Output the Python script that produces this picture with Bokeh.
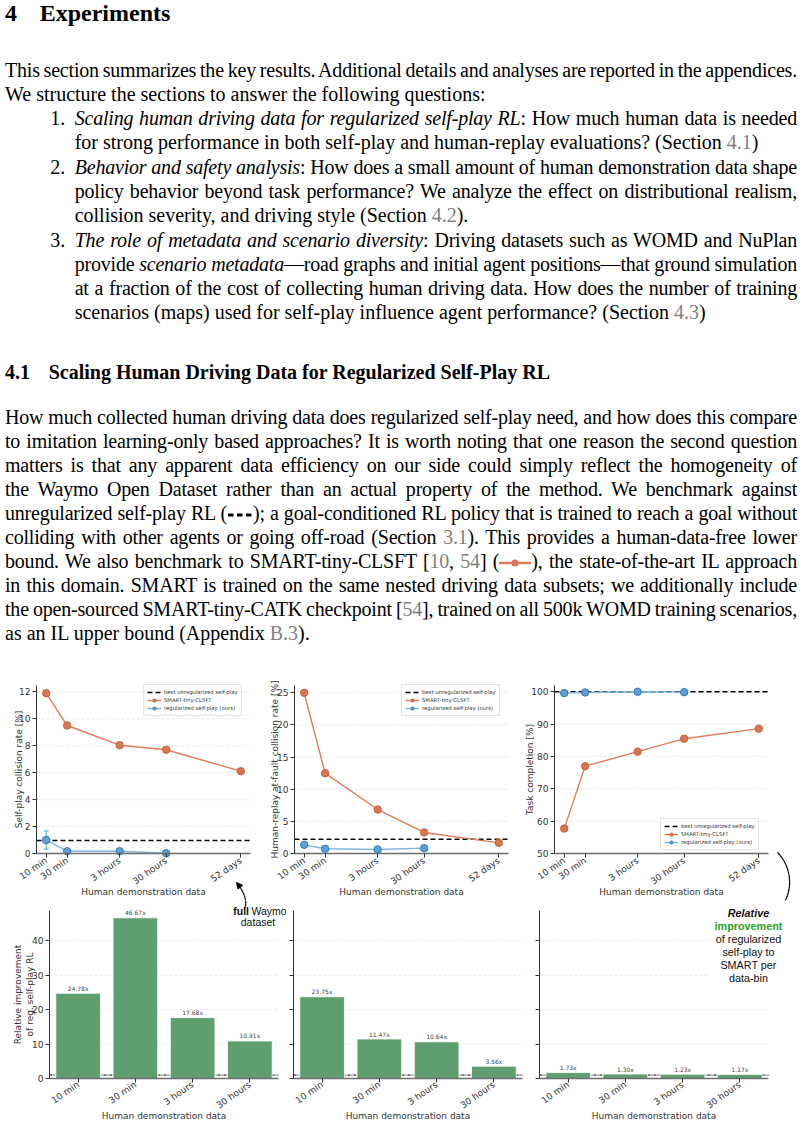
import math
from bokeh.plotting import figure
from bokeh.models import (Div, Legend, LegendItem, Label, Arrow, NormalHead, Range1d,
                          FixedTicker, BoxAnnotation)
from bokeh.layouts import column, row
from bokeh.core.properties import value
from bokeh.embed import file_html
from bokeh.resources import INLINE

# ---------------- data ----------------
data_bins = ["10 min", "30 min", "3 hours", "30 hours", "52 days"]
data_bin_x = [0.0, 0.45, 1.58, 2.58, 4.185]   # log10 position relative to 10 min, as plotted

smart_sp_collision = [11.9, 9.5, 8.04, 7.7, 6.11]
ours_sp_collision = [1.0, 0.17, 0.17, 0.02]
ours_sp_collision_err = [0.68, 0.03, 0.03, 0.02]
unreg_sp_collision = 0.96

smart_hr_collision = [25.0, 12.5, 6.84, 3.27, 1.66]
ours_hr_collision = [1.35, 0.73, 0.62, 0.83]
unreg_hr_collision = 2.22

smart_task = [57.7, 77.0, 81.5, 85.5, 88.6]
ours_task = [99.6, 99.8, 100.0, 99.9]
unreg_task = 100.0

bar_bins = ["10 min", "30 min", "3 hours", "30 hours"]
rel_impr_sp = [24.78, 46.67, 17.68, 10.91]
rel_impr_hr = [23.75, 11.47, 10.64, 3.56]
rel_impr_task = [1.73, 1.30, 1.23, 1.17]
rel_baseline = 1.0

# ---------------- styles ----------------
SANS = "DejaVu Sans"
ANNO = "Liberation Sans"
SERIF = "Liberation Serif"
ORANGE_LINE = "#e27c55"
ORANGE_FILL = "#dc7650"
ORANGE_EDGE = "#b9593a"
BLUE_LINE = "#7ab6e0"
BLUE_FILL = "#5aa2d8"
BLUE_EDGE = "#2a6aa6"
GREEN = "#5f9e6e"
AX = "#333333"
GRID = "#e4e4e4"
GRAYREF = "#7f7f7f"

X_RANGE = (-0.2085, 4.3935)
BAR_X = (-0.5, 3.5)
BAR_Y = (0, 48.8)


class Geo:
    """maps page pixels to data coordinates of one figure"""
    def __init__(self, fl, fr, ft, fb, xr, yr):
        self.fl, self.fr, self.ft, self.fb, self.xr, self.yr = fl, fr, ft, fb, xr, yr

    def x(self, px):
        return self.xr[0] + (px - self.fl) / (self.fr - self.fl) * (self.xr[1] - self.xr[0])

    def y(self, py):
        return self.yr[0] + (self.fb - py) / (self.fb - self.ft) * (self.yr[1] - self.yr[0])


def make_fig(canvas, box, xr, yr):
    cl, ct, cr, cb = canvas
    dl, dt, dr, db = box
    sx = (dr - dl) / (xr[1] - xr[0])
    sy = (db - dt) / (yr[1] - yr[0])
    p = figure(width=cr - cl, height=cb - ct,
               x_range=Range1d(xr[0] - (dl - cl) / sx, xr[1] + (cr - dr) / sx),
               y_range=Range1d(yr[0] - (cb - db) / sy, yr[1] + (dt - ct) / sy),
               output_backend="svg", toolbar_location=None,
               min_border_left=0, min_border_right=0, min_border_top=0, min_border_bottom=0)
    p.xaxis.fixed_location = yr[0]
    p.yaxis.fixed_location = xr[0]
    p.xaxis.bounds = xr
    p.yaxis.bounds = yr
    p.outline_line_color = None
    p.xgrid.visible = False
    p.ygrid.visible = False
    for ax in (p.xaxis[0], p.yaxis[0]):
        ax.major_label_text_font = SANS
        ax.major_label_text_font_size = "9px"
        ax.major_label_text_color = AX
        ax.axis_label_text_font = SANS
        ax.axis_label_text_font_size = "9px"
        ax.axis_label_text_font_style = "normal"
        ax.axis_label_text_color = AX
        ax.major_tick_out = 4
        ax.major_tick_in = 0
        ax.minor_tick_line_color = None
        ax.major_tick_line_color = AX
        ax.major_label_standoff = 2
    p.xaxis.axis_line_color = "#6e6e6e"
    p.xaxis.axis_line_width = 1.5
    p.yaxis.axis_line_color = AX
    p.yaxis.axis_line_width = 1.0
    p.xaxis.major_label_orientation = math.radians(35)
    p.xaxis.axis_label = "Human demonstration data"
    p.xaxis.axis_label_standoff = -6
    return p, Geo(dl, dr, dt, db, xr, yr)


def bez(p0, p1, p2, p3, n=18):
    pts = []
    for i in range(n + 1):
        t = i / n
        u = 1 - t
        pts.append((u ** 3 * p0[0] + 3 * u * u * t * p1[0] + 3 * u * t * t * p2[0] + t ** 3 * p3[0],
                    u ** 3 * p0[1] + 3 * u * u * t * p1[1] + 3 * u * t * t * p2[1] + t ** 3 * p3[1]))
    return pts


def draw_curve(p, geo, pts, head):
    for i in range(len(pts) - 1):
        a, b = pts[i], pts[i + 1]
        last = i == len(pts) - 2
        hd = NormalHead(size=6, fill_color="black", line_color="black", line_width=1) if (last and head) else None
        p.add_layout(Arrow(x_start=geo.x(a[0]), y_start=geo.y(a[1]), x_end=geo.x(b[0]), y_end=geo.y(b[1]),
                           end=hd, line_color="black", line_width=1.2))


def line_chart(canvas, box, yr, yticks, ylabel, ylabel_standoff, smart, ours, unreg, legend_xy, ours_err=None):
    p, geo = make_fig(canvas, box, X_RANGE, yr)
    p.yaxis.axis_label = ylabel
    p.yaxis.axis_label_standoff = ylabel_standoff
    p.xaxis.ticker = FixedTicker(ticks=data_bin_x)
    p.xaxis.major_label_overrides = dict(zip(data_bin_x, data_bins))
    p.yaxis.ticker = FixedTicker(ticks=yticks)

    x0, x1 = X_RANGE
    gl = yticks[1:]
    p.segment([x0] * len(gl), gl, [x1] * len(gl), gl, line_color=GRID, line_dash="3 2", line_width=0.8)
    r_unreg = p.line([x0, x1], [unreg, unreg], line_color="black", line_dash="5 3", line_width=1.5)
    r_sl = p.line(data_bin_x, smart, line_color=ORANGE_LINE, line_width=1.4)
    r_ss = p.scatter(data_bin_x, smart, size=7.5, fill_color=ORANGE_FILL, line_color=ORANGE_EDGE, line_width=0.8)
    ox = data_bin_x[:len(ours)]
    r_ol = p.line(ox, ours, line_color=BLUE_LINE, line_width=1.4)
    if ours_err is not None:
        lo = [v - e for v, e in zip(ours, ours_err)]
        hi = [v + e for v, e in zip(ours, ours_err)]
        p.segment(ox, lo, ox, hi, line_color=BLUE_LINE, line_width=1.3)
        p.scatter(ox, lo, marker="dash", size=5, line_color=BLUE_LINE, line_width=1.3)
        p.scatter(ox, hi, marker="dash", size=5, line_color=BLUE_LINE, line_width=1.3)
    r_os = p.scatter(ox, ours, size=7.5, fill_color=BLUE_FILL, line_color=BLUE_EDGE, line_width=0.8)

    legend = Legend(items=[
        LegendItem(label="best unregularized self-play", renderers=[r_unreg]),
        LegendItem(label="SMART-tiny-CLSFT", renderers=[r_sl, r_ss]),
        LegendItem(label="regularized self-play (ours)", renderers=[r_ol, r_os]),
    ], location=legend_xy)
    legend.label_text_font = SANS
    legend.label_text_font_size = "5.3px"
    legend.label_text_color = AX
    legend.label_height = 7
    legend.glyph_height = 8
    legend.glyph_width = 14
    legend.spacing = 0
    legend.padding = 3
    legend.margin = 0
    legend.label_standoff = 3
    legend.border_line_color = "#cccccc"
    legend.border_line_width = 0.8
    legend.background_fill_alpha = 0.85
    p.add_layout(legend)
    return p, geo


def bar_chart(canvas, box, vals, ylabel=None, show_ylabels=True):
    p, geo = make_fig(canvas, box, BAR_X, BAR_Y)
    p.xaxis.major_label_standoff = 1
    if ylabel is not None:
        p.yaxis.axis_label = ylabel
        p.yaxis.axis_label_standoff = -6
    idx = list(range(len(bar_bins)))
    p.xaxis.ticker = FixedTicker(ticks=idx)
    p.xaxis.major_label_overrides = dict(zip(idx, bar_bins))
    yt = [0, 10, 20, 30, 40]
    p.yaxis.ticker = FixedTicker(ticks=yt)
    if not show_ylabels:
        p.yaxis.major_label_overrides = {t: "" for t in yt}
    x0, x1 = BAR_X
    gl = yt[1:]
    p.segment([x0] * len(gl), gl, [x1] * len(gl), gl, line_color=GRID, line_dash="3 2", line_width=0.8)
    p.line([x0, x1], [rel_baseline, rel_baseline], line_color="black", line_dash="3 1 1 1", line_width=1)
    p.vbar(x=idx, top=vals, width=0.78, fill_color=GREEN, line_color="white", line_width=0.8)
    p.text(x=idx, y=vals, text=[f"{v:.2f}x" for v in vals], text_align="center", text_baseline="bottom",
           y_offset=-1.5, text_font=value(SANS), text_font_size="6px", text_color="#444444")
    return p, geo


# ---------------- top row (page px: canvas box, data box) ----------------
f1, g1 = line_chart((8, 676, 262, 898), (44, 683, 258, 851), (0, 12.47), [0, 2, 4, 6, 8, 10, 12],
                    "Self-play collision rate [%]", -8,
                    smart_sp_collision, ours_sp_collision, unreg_sp_collision, (143, 184), ours_sp_collision_err)
f2, g2 = line_chart((262, 676, 522, 898), (302, 683, 516, 851), (0, 26.14), [0, 5, 10, 15, 20, 25],
                    "Human-replay at-fault collision rate [%]", -6,
                    smart_hr_collision, ours_hr_collision, unreg_hr_collision, (147, 184))
f3, g3 = line_chart((522, 676, 800, 898), (562, 683, 776, 851), (50, 101.95), [50, 60, 70, 80, 90, 100],
                    "Task completion [%]", -7,
                    smart_task, ours_task, unreg_task, (146, 50))

# ---------------- bottom row ----------------
f4, g4 = bar_chart((8, 898, 294, 1120), (57, 908, 286, 1076), rel_impr_sp,
                   "Relative improvement\nof reg. self-play RL")
f5, g5 = bar_chart((294, 898, 538, 1120), (301, 908, 530, 1076), rel_impr_hr, None, show_ylabels=False)
f6, g6 = bar_chart((538, 898, 800, 1120), (547, 908, 776, 1076), rel_impr_task, None, show_ylabels=False)

# "full Waymo dataset" arrow and text
waymo_arrow = bez((251.5, 907), (256.5, 899), (250, 887), (244, 880))
draw_curve(f1, g1, waymo_arrow, True)
draw_curve(f4, g4, waymo_arrow, False)
f4.add_layout(Label(x=g4.x(256.5), y=g4.y(908), text="full", text_font=ANNO, text_font_style="bold",
                    text_font_size="10.5px", text_color="#111111", text_align="right", text_baseline="middle"))
f4.add_layout(Label(x=g4.x(259), y=g4.y(908), text="Waymo", text_font=ANNO,
                    text_font_size="10.5px", text_color="#111111", text_align="left", text_baseline="middle"))
f4.add_layout(Label(x=g4.x(265.5), y=g4.y(919.5), text="dataset", text_font=ANNO,
                    text_font_size="10.5px", text_color="#111111", text_align="center", text_baseline="middle"))

# curved arrow to the relative-improvement note
rel_arrow = bez((785, 850), (801, 866), (801, 893), (786, 907))
draw_curve(f3, g3, rel_arrow, False)
draw_curve(f6, g6, rel_arrow, True)
f6.add_layout(BoxAnnotation(left=g6.x(716), right=g6.x(800), top=g6.y(898), bottom=g6.y(984),
                            fill_color="white", fill_alpha=1.0, line_color=None))
note = [("Relative", "bold italic", "#111111"), ("improvement", "bold", "#2ea12e"),
        ("of regularized", "normal", "#111111"), ("self-play to", "normal", "#111111"),
        ("SMART per", "normal", "#111111"), ("data-bin", "normal", "#111111")]
for i, (t, st, c) in enumerate(note):
    f6.add_layout(Label(x=g6.x(756), y=g6.y(910.7 + 12.9 * i), text=t, text_font=ANNO, text_font_style=st,
                        text_font_size="10.8px", text_color=c, text_align="center", text_baseline="middle"))

# ---------------- text ----------------
FS = 20


def tline(baseline, left, html, width=None, justify=False, fs=FS, bold=False):
    lh = round(fs * 1.2)
    top = baseline - 8 - ((lh - 1.107 * fs) / 2 + 0.891 * fs)
    st = f"position:absolute;left:{left}px;top:{top:.2f}px;line-height:{lh}px;font-size:{fs}px;"
    if width:
        st += f"width:{width}px;"
    if justify:
        st += "text-align:justify;text-align-last:justify;word-spacing:-1px;letter-spacing:-0.2px;"
    else:
        st += "white-space:nowrap;"
    if bold:
        st += "font-weight:bold;"
    return f'<div style="{st}">{html}</div>'


def ref(s):
    return f'<span style="color:{GRAYREF}">{s}</span>'


dash_svg = ('<svg width="26" height="10" style="vertical-align:0px"><line x1="1" y1="5" x2="25" y2="5" '
            'stroke="black" stroke-width="2.8" stroke-dasharray="5.5 3.5"/></svg>')
smart_svg = (f'<svg width="32" height="10" style="vertical-align:0px"><line x1="0" y1="5" x2="32" y2="5" '
             f'stroke="{ORANGE_LINE}" stroke-width="2.4"/><circle cx="16" cy="5" r="3.6" fill="{ORANGE_FILL}"/></svg>')

W = 792
IL, IW = 69.7, 722.3
p1b = [80, 103.3, 127.9, 151.8, 176.4, 200.5, 224.6, 249.5, 273.3, 297.4, 321.5]
lines = []
lines.append(tline(24.5, 0, "4", fs=24, bold=True))
lines.append(tline(24.5, 34.7, "Experiments", fs=24, bold=True))
lines.append(tline(p1b[0], 0, "This section summarizes the key results. Additional details and analyses are reported in the appendices.", W, True))
lines.append(tline(p1b[1], 0, "We structure the sections to answer the following questions:"))
lines.append(tline(p1b[2], 45.3, "1."))
lines.append(tline(p1b[2], IL, "<i>Scaling human driving data for regularized self-play RL</i>: How much human data is needed", IW, True))
lines.append(tline(p1b[3], IL, f"for strong performance in both self-play and human-replay evaluations? (Section {ref('4.1')})"))
lines.append(tline(p1b[4], 45.3, "2."))
lines.append(tline(p1b[4], IL, "<i>Behavior and safety analysis</i>: How does a small amount of human demonstration data shape", IW, True))
lines.append(tline(p1b[5], IL, "policy behavior beyond task performance? We analyze the effect on distributional realism,", IW, True))
lines.append(tline(p1b[6], IL, f"collision severity, and driving style (Section {ref('4.2')})."))
lines.append(tline(p1b[7], 45.3, "3."))
lines.append(tline(p1b[7], IL, "<i>The role of metadata and scenario diversity</i>: Driving datasets such as WOMD and NuPlan", IW, True))
lines.append(tline(p1b[8], IL, "provide <i>scenario metadata</i>&mdash;road graphs and initial agent positions&mdash;that ground simulation", IW, True))
lines.append(tline(p1b[9], IL, "at a fraction of the cost of collecting human driving data. How does the number of training", IW, True))
lines.append(tline(p1b[10], IL, f"scenarios (maps) used for self-play influence agent performance? (Section {ref('4.3')})"))

lines.append(tline(381.3, 0, "4.1", bold=True))
lines.append(tline(381.3, 43.7, "Scaling Human Driving Data for Regularized Self-Play RL", bold=True))

para2 = [
    "How much collected human driving data does regularized self-play need, and how does this compare",
    "to imitation learning-only based approaches? It is worth noting that one reason the second question",
    "matters is that any apparent data efficiency on our side could simply reflect the homogeneity of",
    "the Waymo Open Dataset rather than an actual property of the method. We benchmark against",
    f"unregularized self-play RL ({dash_svg}); a goal-conditioned RL policy that is trained to reach a goal without",
    f"colliding with other agents or going off-road (Section {ref('3.1')}). This provides a human-data-free lower",
    f"bound. We also benchmark to SMART-tiny-CLSFT [{ref('10')}, {ref('54')}] ({smart_svg}), the state-of-the-art IL approach",
    "in this domain. SMART is trained on the same nested driving data subsets; we additionally include",
    f"the open-sourced SMART-tiny-CATK checkpoint [{ref('54')}], trained on all 500k WOMD training scenarios,",
]
for i, t in enumerate(para2):
    lines.append(tline(427 + 24 * i, 0, t, W, True))
lines.append(tline(427 + 24 * 9, 0, f"as an IL upper bound (Appendix {ref('B.3')})."))

html = (f'<div style="position:relative;width:{W}px;height:668px;font-family:\'{SERIF}\',serif;color:#000;">'
        + "".join(lines) + "</div>")
text_div = Div(text=html, width=W, height=668)

layout = column(text_div, row(f1, f2, f3), row(f4, f5, f6))
open("out.html", "w").write(file_html(layout, INLINE))
